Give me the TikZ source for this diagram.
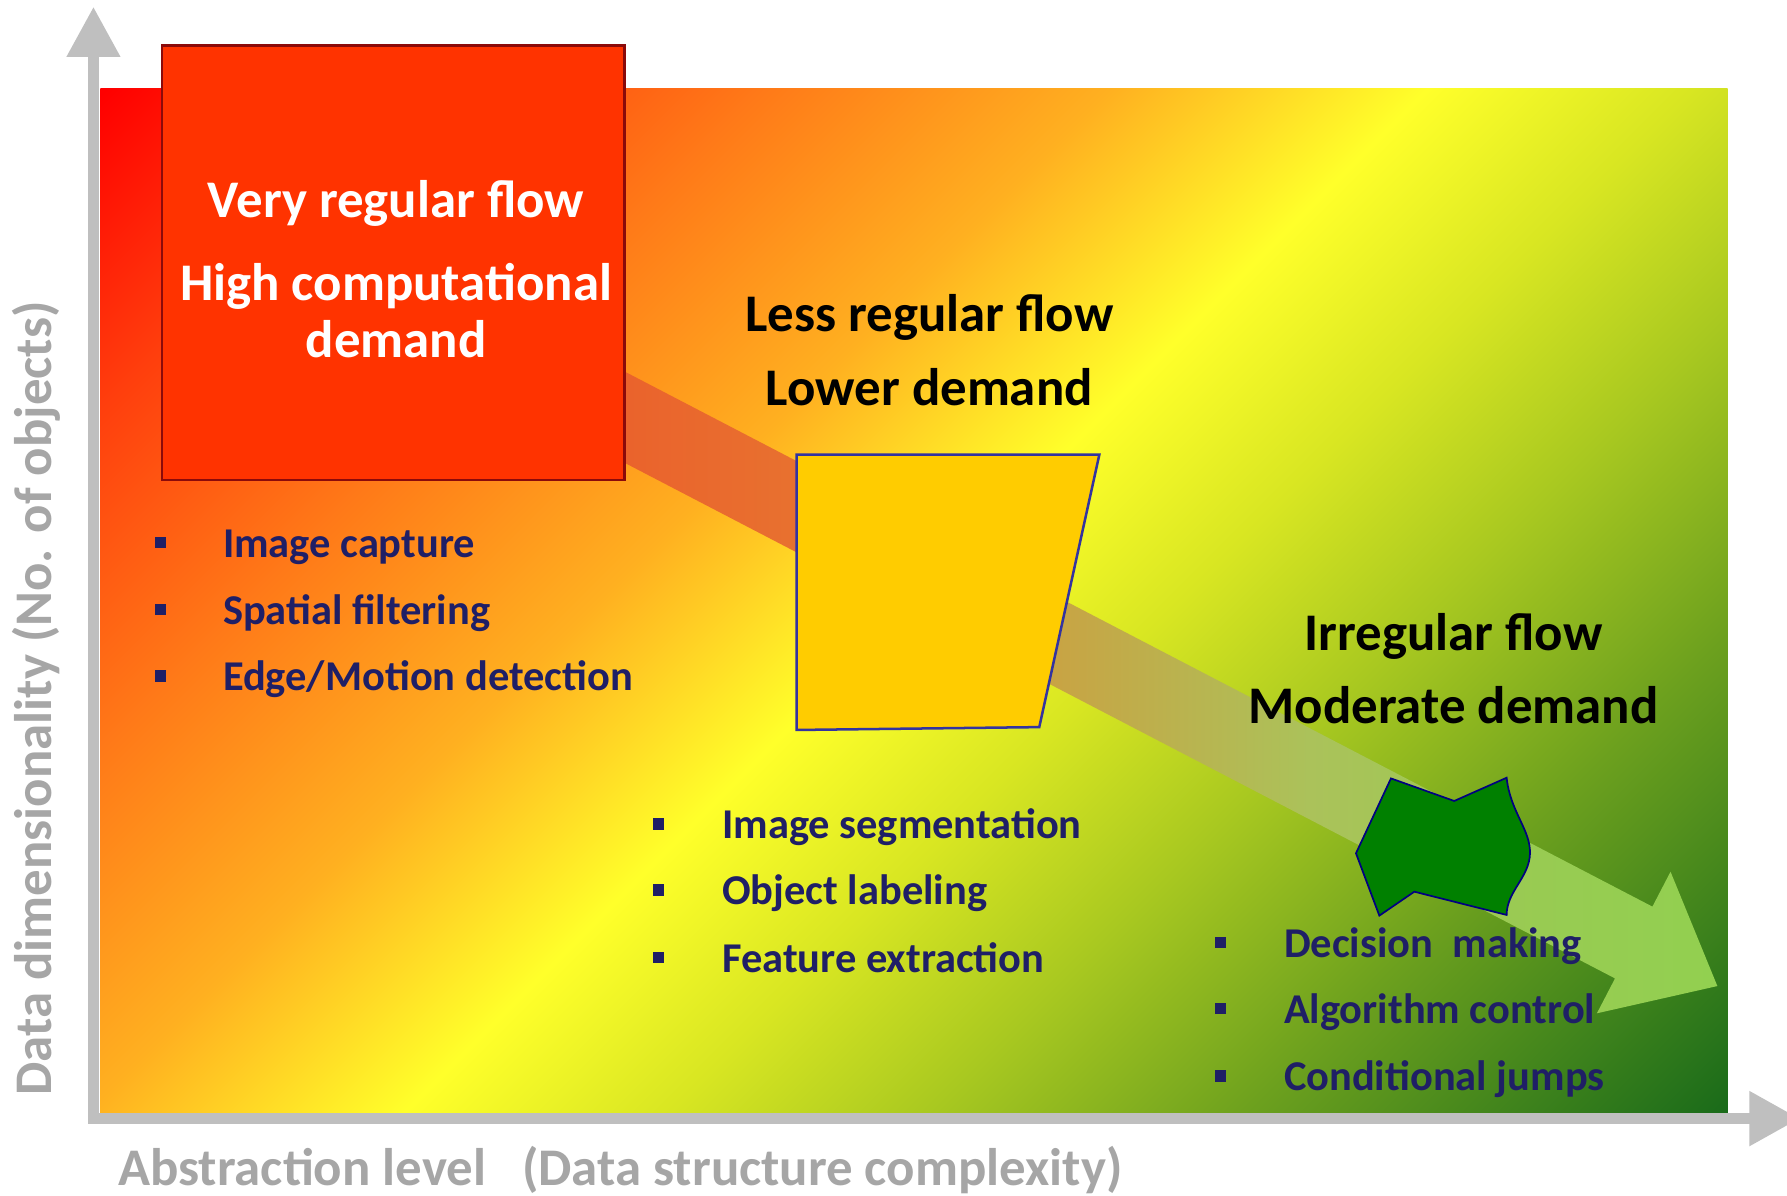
\documentclass[tikz,border=0pt]{standalone}
\usepackage{fontspec}
\setmainfont{Carlito}
\usetikzlibrary{arrows.meta}

% palette
\definecolor{bgA}{HTML}{FF0000}
\definecolor{bgB}{HTML}{FF3F0D}
\definecolor{bgC}{HTML}{FF7A18}
\definecolor{bgD}{HTML}{FFB020}
\definecolor{bgE}{HTML}{FFFF2A}
\definecolor{bgF}{HTML}{D8E622}
\definecolor{bgG}{HTML}{A8C820}
\definecolor{bgH}{HTML}{6CA01E}
\definecolor{bgI}{HTML}{1A6B1A}
\definecolor{arA}{HTML}{EC5A2A}
\definecolor{arB}{HTML}{E8702F}
\definecolor{arC}{HTML}{C8A444}
\definecolor{arD}{HTML}{ABC25A}
\definecolor{arE}{HTML}{98CB52}
\definecolor{arF}{HTML}{92D050}
\definecolor{hotred}{HTML}{FF3300}
\definecolor{hotedge}{HTML}{8B0A0A}
\definecolor{midfill}{HTML}{FFCC00}
\definecolor{midedge}{HTML}{3333A0}
\definecolor{lowfill}{HTML}{008000}
\definecolor{lowedge}{HTML}{000080}
\definecolor{itemnavy}{HTML}{1F1F66}
\definecolor{axisgray}{HTML}{BFBFBF}
\definecolor{labelgray}{HTML}{A6A6A6}

% diagonal background: red -> orange -> yellow -> green
\pgfdeclarehorizontalshading{bgshade}{100bp}{color(0bp)=(bgA); color(14.6bp)=(bgA);
  color(23.1bp)=(bgB); color(32.3bp)=(bgC); color(41.5bp)=(bgD); color(50bp)=(bgE);
  color(57.1bp)=(bgF); color(64.2bp)=(bgG); color(72.7bp)=(bgH); color(85.4bp)=(bgI);
  color(100bp)=(bgI)}

% block arrow fading from orange-red to light green
\pgfdeclarehorizontalshading{arrowshade}{100bp}{color(0bp)=(arA); color(25bp)=(arA);
  color(36.25bp)=(arB); color(47.5bp)=(arC); color(58bp)=(arD); color(67.5bp)=(arE);
  color(75bp)=(arF); color(100bp)=(arF)}

\begin{document}
\begin{tikzpicture}[x=0.1mm, y=-0.1mm,
  axisline/.style={draw=axisgray, line width=0.9mm, line join=miter,
    {Triangle[length=4.4mm,width=4.5mm]}-{Triangle[length=4.4mm,width=4.6mm]}},
  axlabel/.style={text=labelgray, inner sep=0pt, anchor=base west,
    font=\fontsize{13.2pt}{15pt}\selectfont\bfseries},
  headtext/.style={inner sep=0pt, anchor=base,
    font=\fontsize{13.2pt}{15pt}\selectfont\bfseries},
  itemtext/.style={text=itemnavy, inner sep=0pt, anchor=base west,
    font=\fontsize{10.6pt}{12pt}\selectfont\bfseries},
  bulletsq/.style={fill=itemnavy, minimum size=1mm, inner sep=0pt},
  hotbox/.style={draw=hotedge, fill=hotred, line width=0.2mm,
    minimum width=40.6mm, minimum height=38.1mm, inner sep=0pt},
  midshape/.style={draw=midedge, fill=midfill, line width=0.22mm, line join=miter},
  lowshape/.style={draw=lowedge, fill=lowfill, line width=0.15mm, line join=miter}]

\useasboundingbox (0,0) rectangle (1568,1049);

% background field
\shade[shading=bgshade, shading angle=-45] (88,78) rectangle (1516,978);

% axes
\coordinate (ytip) at (82,6);
\coordinate (origin) at (82,981.5);
\coordinate (xtip) at (1579,981.5);
\draw[axisline] (ytip) -- (origin) -- (xtip);

\node[axlabel] (xlabel) at (103,1040)
  {Abstraction level~~~(Data structure complexity)};
\node[axlabel, rotate=90] (ylabel) at (45,962)
  {Data dimensionality (No. of objects)};

% block arrow through the three stages
\shade[shading=arrowshade] (486.4,293.9) -- (1449.9,795.5) -- (1465.8,764.9)
  -- (1506.9,865.2) -- (1401.2,889.1) -- (1417.1,858.5) -- (453.6,356.9) -- cycle;

% stage 1
\node[hotbox] (hot) at (345,230.5) {};
\node[headtext, text=white] (hot1) at (347.5,191) {Very regular flow};
\node[headtext, text=white] (hot2) at (347.5,264) {High computational};
\node[headtext, text=white] (hot3) at (347.5,314) {demand};

\node[bulletsq] (p1) at (141,476) {};
\node[itemtext] (t1) at (195,489) {Image capture};
\node[bulletsq] (p2) at (141,535) {};
\node[itemtext] (t2) at (195,548) {Spatial filtering};
\node[bulletsq] (p3) at (141,593) {};
\node[itemtext] (t3) at (195,606) {Edge/Motion detection};

% stage 2
\draw[midshape] (699,399) -- (964.6,399) -- (911.9,638) -- (699,640.5) -- cycle;
\node[headtext] (mid1) at (815.5,291) {Less regular flow};
\node[headtext] (mid2) at (815.5,356) {Lower demand};

\node[bulletsq] (q1) at (578,723) {};
\node[itemtext] (u1) at (633,736) {Image segmentation};
\node[bulletsq] (q2) at (578,781) {};
\node[itemtext] (u2) at (633,794) {Object labeling};
\node[bulletsq] (q3) at (578,840) {};
\node[itemtext] (u3) at (633,853) {Feature extraction};

% stage 3
\draw[lowshape] (1220.5,683) -- (1276,702.8) -- (1322,682.4)
  .. controls (1325,712) and (1343,728) .. (1342.5,748.7)
  .. controls (1342,770) and (1322,782) .. (1322,802.8)
  -- (1241,782.4) -- (1210.3,803.4) -- (1189.8,748.7) -- cycle;
\node[headtext] (low1) at (1275.5,571) {Irregular flow};
\node[headtext] (low2) at (1275.5,635) {Moderate demand};

\node[bulletsq] (r1) at (1071,827) {};
\node[itemtext] (v1) at (1126,840) {Decision~~making};
\node[bulletsq] (r2) at (1071,885) {};
\node[itemtext] (v2) at (1126,898) {Algorithm control};
\node[bulletsq] (r3) at (1071,944) {};
\node[itemtext] (v3) at (1126,957) {Conditional jumps};
\end{tikzpicture}
\end{document}
